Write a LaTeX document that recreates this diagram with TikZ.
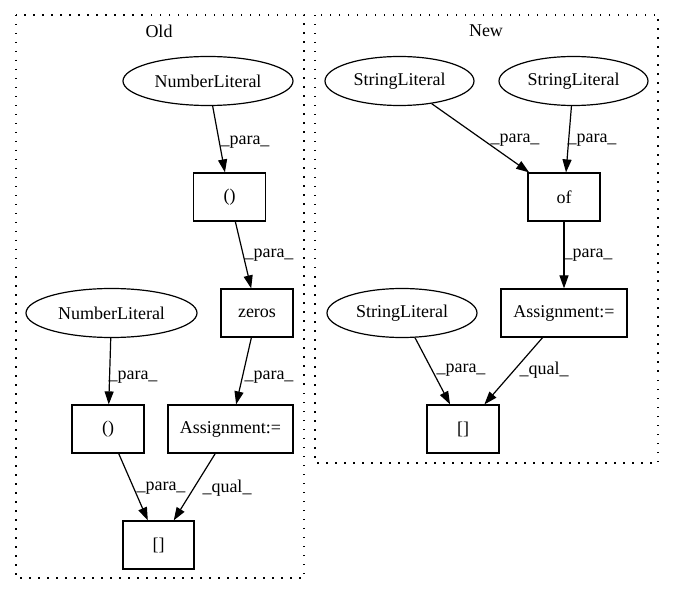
\documentclass[tikz,border=0pt]{standalone}
\usepackage{fontspec}
\setmainfont{Liberation Serif}
\usetikzlibrary{shapes.geometric,arrows.meta}
\begin{document}
\begin{tikzpicture}[x=1pt,y=-1pt,
  every node/.style={font=\fontsize{18}{22}\selectfont},
  ell/.style={draw,ellipse,line width=1.2pt,inner sep=0pt,minimum height=49pt},
  box/.style={draw,rectangle,line width=1.2pt,inner sep=0pt,minimum height=48pt,minimum width=72pt},
  cluster/.style={draw,line width=1.5pt,dash pattern=on 1.5pt off 7.5pt},
  edge/.style={draw,line width=1.2pt,-{Triangle[length=13pt,width=9pt]}},
  lbl/.style={inner sep=0pt}]
\useasboundingbox (0,0) rectangle (675,596);
% clusters
\draw[cluster] (16,15) rectangle (304,578);
\draw[cluster] (315,15) rectangle (658,463);
\node (oldlbl) at (159,31) {Old};
\node (newlbl) at (486,31) {New};
% Old nodes
\node[ell,minimum width=170pt] (nl1) at (208,81) {NumberLiteral};
\node[box] (p1) at (229.5,197) {()};
\node[box] (zeros) at (257,313) {zeros};
\node[ell,minimum width=171pt] (nl2) at (111.5,313) {NumberLiteral};
\node[box] (p2) at (108,429) {()};
\node[box,minimum width=125pt] (asg1) at (230.5,429) {Assignment:=};
\node[box,minimum width=71pt] (br1) at (158.5,545) {[]};
% New nodes
\node[ell,minimum width=149pt] (sl1) at (399.5,81) {StringLiteral};
\node[ell,minimum width=149pt] (sl2) at (573.5,81) {StringLiteral};
\node[box] (of) at (564,197) {of};
\node[box,minimum width=126pt] (asg2) at (564,313) {Assignment:=};
\node[ell,minimum width=150pt] (sl3) at (402,313) {StringLiteral};
\node[box] (br2) at (463,429) {[]};
% Old edges
\draw[edge] (nl1) -- (p1) node[lbl] at (245,142) {\_para\_};
\draw[edge] (p1) -- (zeros) node[lbl] at (269,255) {\_para\_};
\draw[edge] (nl2) -- (p2) node[lbl] at (133,377) {\_para\_};
\draw[edge] (zeros) -- (asg1) node[lbl] at (269,377) {\_para\_};
\draw[edge] (p2) -- (br1) node[lbl] at (161,488) {\_para\_};
\draw[edge] (asg1) -- (br1) node[lbl] at (227,488) {\_qual\_};
% New edges
\draw[edge] (sl1) -- (of) node[lbl] at (515,140) {\_para\_};
\draw[edge] (sl2) -- (of) node[lbl] at (592,140) {\_para\_};
\draw[edge] (of) -- (asg2) node[lbl] at (588,255) {\_para\_};
\draw[edge] (sl3) -- (br2) node[lbl] at (461,370) {\_para\_};
\draw[edge] (asg2) -- (br2) node[lbl] at (544,370) {\_qual\_};
\end{tikzpicture}
\end{document}
